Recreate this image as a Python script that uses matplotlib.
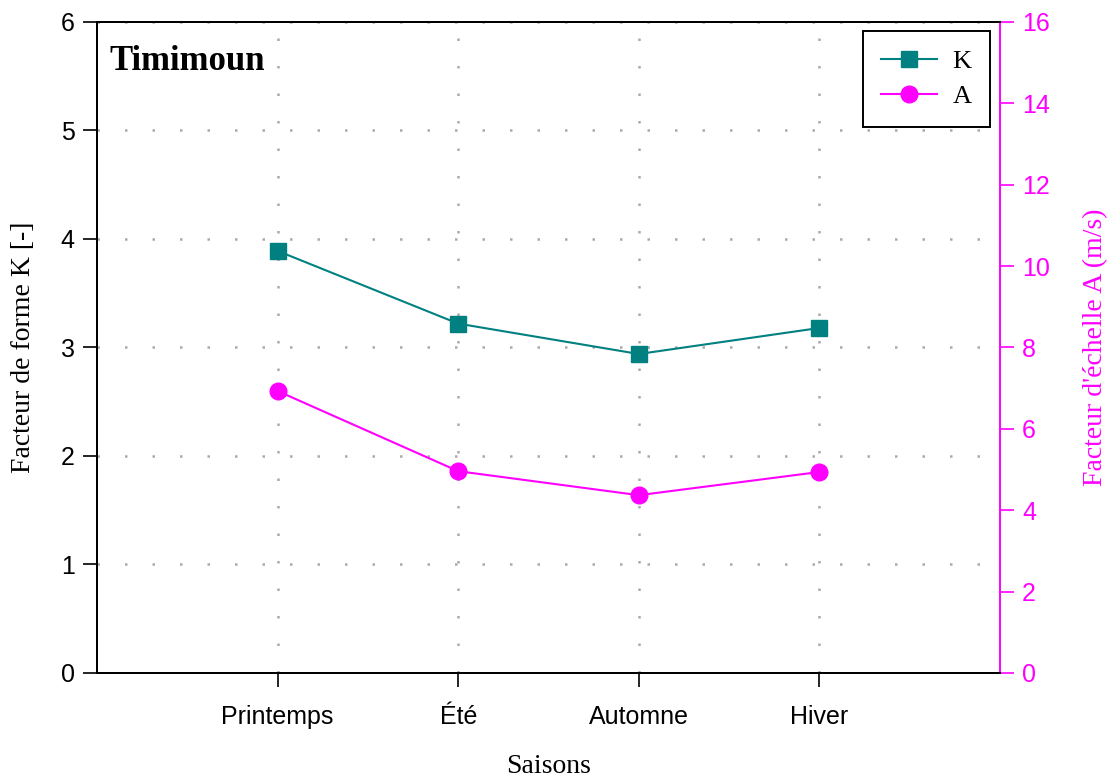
import matplotlib.pyplot as plt

# Seasonal Weibull parameters, Timimoun
seasons = ["Printemps", "Été", "Automne", "Hiver"]
k_shape = [3.89, 3.22, 2.94, 3.18]
a_scale = [6.93, 4.96, 4.37, 4.94]

teal = "#008080"
magenta = "#FF00FF"
sans = "Liberation Sans"
serif = "Liberation Serif"

fig = plt.figure(figsize=(11.1, 7.8), dpi=100)
ax = fig.add_axes([0.0874, 0.1372, 0.8135, 0.8346])
ax2 = ax.twinx()

x = list(range(1, len(seasons) + 1))
lk, = ax.plot(x, k_shape, color=teal, lw=1.5, marker="s", ms=11,
              markeredgecolor=teal, label="K", zorder=3)
la, = ax2.plot(x, a_scale, color=magenta, lw=1.5, marker="o", ms=12,
               markeredgecolor=magenta, label="A", zorder=3)

ax.set_xlim(0, 5)
ax.set_ylim(0, 6)
ax2.set_ylim(0, 16)
ax.set_xticks(x)
ax.set_xticklabels(seasons, fontfamily=sans, fontsize=18)
ax.set_yticks(range(0, 7))
ax2.set_yticks(range(0, 17, 2))
for lab in ax.get_yticklabels() + ax2.get_yticklabels():
    lab.set_fontfamily(sans)
    lab.set_fontsize(18)

ax.tick_params(axis="x", direction="out", length=10, width=1.2, pad=13)
ax.tick_params(axis="y", direction="out", length=10, width=1.2, pad=6)
ax2.tick_params(axis="y", direction="out", length=10, width=1.2, pad=6,
                colors=magenta)

ax.grid(True, color="#aaaaaa", linestyle=(0, (1, 10)), linewidth=1.8)
ax.set_axisbelow(True)

for side in ["left", "bottom", "top"]:
    ax.spines[side].set_linewidth(1.4)
    ax2.spines[side].set_linewidth(1.4)
ax2.spines["right"].set_color(magenta)
ax2.spines["right"].set_linewidth(1.4)
ax.spines["right"].set_visible(False)

ax.set_xlabel("Saisons", fontfamily=serif, fontsize=20)
ax.xaxis.set_label_coords(0.5, -0.125)
ax.set_ylabel("Facteur de forme K [-]", fontfamily=serif, fontsize=20,
              labelpad=18)
ax2.set_ylabel("Facteur d'échelle A (m/s)", fontfamily=serif, fontsize=20,
               color=magenta, labelpad=24)

ax.text(0.014, 0.94, "Timimoun", transform=ax.transAxes, fontfamily=serif,
        fontweight="bold", fontsize=25, va="center", ha="left")

leg = ax2.legend(handles=[lk, la], loc="upper right",
                 bbox_to_anchor=(0.989, 0.986), prop={"family": serif, "size": 19},
                 fancybox=False, edgecolor="black", framealpha=1,
                 handlelength=2.1, borderpad=0.7, labelspacing=0.45,
                 handletextpad=0.6, borderaxespad=0)
leg.get_frame().set_linewidth(1.4)

fig.savefig("out.png", dpi=100)
